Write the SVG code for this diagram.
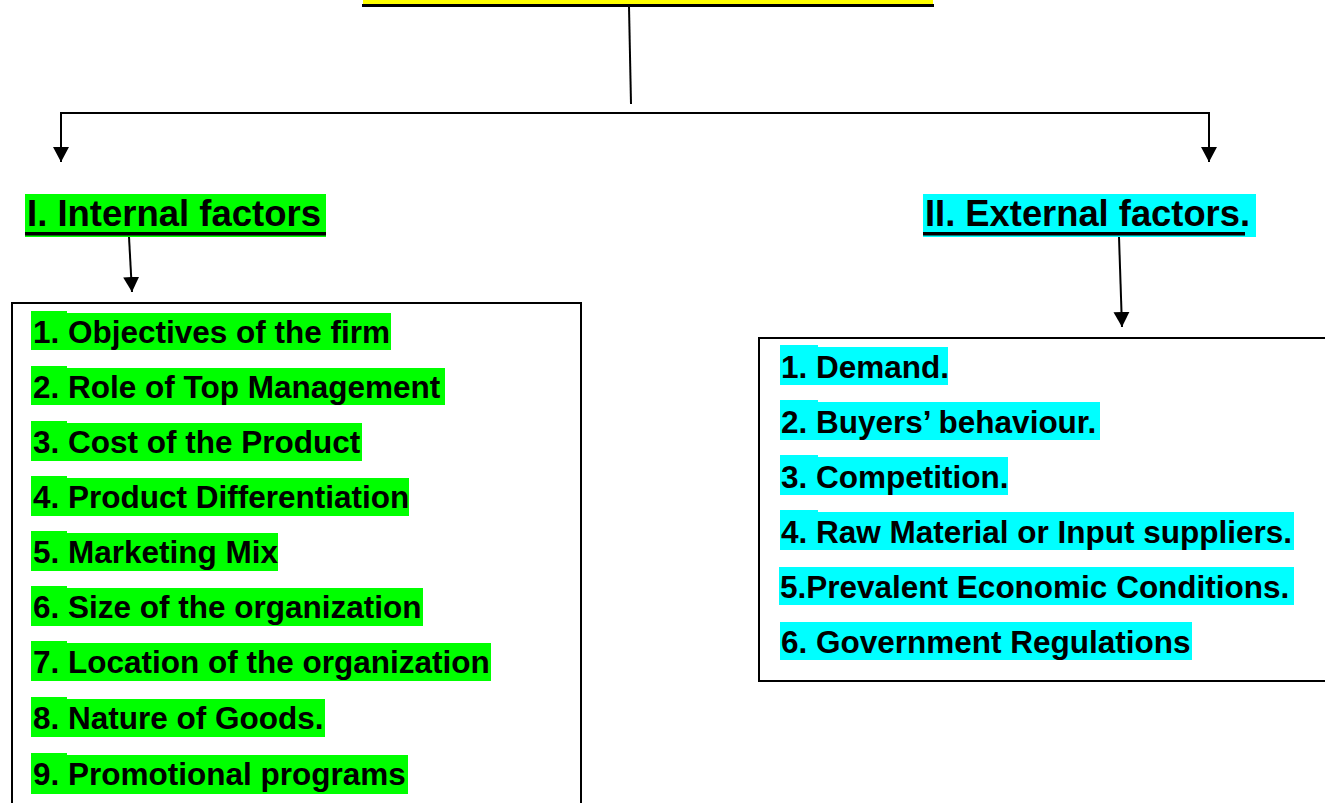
<svg xmlns="http://www.w3.org/2000/svg" width="1325" height="803" viewBox="0 0 1325 803">
<style>
.t{font-family:"Liberation Sans",Arial,sans-serif;font-weight:bold;fill:#000}
.item{font-size:31.5px}
.head{font-size:37px}
.g{fill:#00ff00}
.c{fill:#00ffff}
.box{fill:#fff;stroke:#000;stroke-width:2}
.ln{stroke:#000;stroke-width:2;fill:none}
</style>
<defs>
<marker id="ah" markerUnits="userSpaceOnUse" markerWidth="18" markerHeight="18" refX="15" refY="8" orient="auto">
<path d="M0,0 L15,8 L0,16 z" fill="#000"/>
</marker>
</defs>
<rect width="1325" height="803" fill="#fff"/>
<g id="title">
<rect x="363" y="0" width="570" height="4" fill="#ffff00"/>
<rect x="362" y="4" width="572" height="3" fill="#000"/>
</g>
<g id="connectors">
<line class="ln" x1="629" y1="7" x2="631" y2="104"/>
<polyline class="ln" points="61,162 61,113 1209,113 1209,162" marker-end="url(#ah)"/>
<line class="ln" x1="61" y1="114" x2="61" y2="162" marker-end="url(#ah)"/>
<line class="ln" x1="129" y1="237" x2="132" y2="292" marker-end="url(#ah)"/>
<line class="ln" x1="1119" y1="237" x2="1122" y2="327" marker-end="url(#ah)"/>
</g>
<g id="internal-header">
<rect class="g" x="25" y="194" width="301" height="43"/>
<text class="t head" x="27" y="226" textLength="294" lengthAdjust="spacingAndGlyphs">I. Internal factors</text>
<rect x="25" y="232" width="301" height="3.5" fill="#000"/>
</g>
<g id="external-header">
<rect class="c" x="923" y="194" width="333" height="43"/>
<text class="t head" x="925" y="226" textLength="325" lengthAdjust="spacingAndGlyphs">II. External factors.</text>
<rect x="923" y="232" width="322" height="3.5" fill="#000"/>
</g>
<g id="internal-box">
<rect class="box" x="12" y="303" width="569" height="520"/>
<g class="g">
<rect x="31" y="311" width="36" height="39"/><rect x="31" y="313" width="360" height="37"/>
<rect x="31" y="366" width="36" height="39"/><rect x="31" y="368" width="414" height="37"/>
<rect x="31" y="421" width="36" height="40"/><rect x="31" y="423" width="331" height="38"/>
<rect x="31" y="476" width="36" height="40"/><rect x="31" y="478" width="378" height="38"/>
<rect x="31" y="531" width="36" height="40"/><rect x="31" y="533" width="247" height="38"/>
<rect x="31" y="586" width="36" height="40"/><rect x="31" y="588" width="392" height="38"/>
<rect x="31" y="641" width="36" height="40"/><rect x="31" y="643" width="460" height="38"/>
<rect x="31" y="697" width="36" height="40"/><rect x="31" y="699" width="294" height="38"/>
<rect x="31" y="753" width="36" height="41"/><rect x="31" y="755" width="377" height="39"/>
</g>
<text class="t item" x="33" y="343">1. Objectives of the firm</text>
<text class="t item" x="33" y="398">2. Role of Top Management</text>
<text class="t item" x="33" y="453">3. Cost of the Product</text>
<text class="t item" x="33" y="508">4. Product Differentiation</text>
<text class="t item" x="33" y="563">5. Marketing Mix</text>
<text class="t item" x="33" y="618">6. Size of the organization</text>
<text class="t item" x="33" y="673">7. Location of the organization</text>
<text class="t item" x="33" y="729">8. Nature of Goods.</text>
<text class="t item" x="33" y="785">9. Promotional programs</text>
</g>
<g id="external-box">
<rect class="box" x="759" y="338" width="580" height="343"/>
<g class="c">
<rect x="780" y="345" width="38" height="40"/><rect x="780" y="347" width="168" height="38"/>
<rect x="780" y="400" width="38" height="40"/><rect x="780" y="402" width="320" height="38"/>
<rect x="780" y="455" width="38" height="40"/><rect x="780" y="457" width="228" height="38"/>
<rect x="780" y="510" width="38" height="40"/><rect x="780" y="512" width="514" height="38"/>
<rect x="779" y="567" width="515" height="38"/>
<rect x="780" y="622" width="412" height="38"/>
</g>
<text class="t item" x="781" y="378">1. Demand.</text>
<text class="t item" x="781" y="433">2. Buyers’ behaviour.</text>
<text class="t item" x="781" y="488">3. Competition.</text>
<text class="t item" x="781" y="543">4. Raw Material or Input suppliers.</text>
<text class="t item" x="780" y="598">5.Prevalent Economic Conditions.</text>
<text class="t item" x="781" y="653">6. Government Regulations</text>
</g>
</svg>
